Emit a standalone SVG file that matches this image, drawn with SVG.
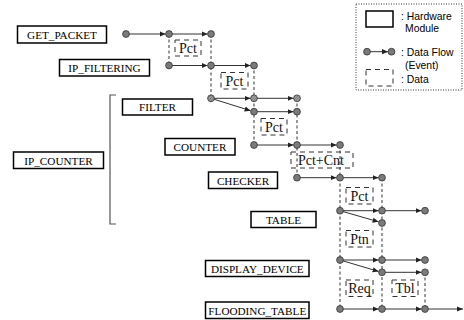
<svg xmlns="http://www.w3.org/2000/svg" width="464" height="320" viewBox="0 0 464 320">
<style>
.hw rect{fill:#fff;stroke:#000;stroke-width:1.5}
.hw text{font-family:'Liberation Serif','Times New Roman',serif;font-size:11.2px;fill:#000;text-anchor:middle}
.dat rect{fill:none;stroke:#333;stroke-width:1;stroke-dasharray:5,4}
.dat text{font-family:'Liberation Serif','Times New Roman',serif;font-size:14px;fill:#111;text-anchor:middle}
.ev line{stroke:#333;stroke-width:1;marker-end:url(#ah)}
.life line{stroke:#333;stroke-width:1;stroke-dasharray:3,2.5}
.dot{fill:#7a7a7a;stroke:#333;stroke-width:0.8}
.hdot{fill:url(#hatch);stroke:#333;stroke-width:0.8}
.leg{font-family:'Liberation Sans',Arial,sans-serif;font-size:10.4px;fill:#000}
</style>
<defs>
<marker id="ah" viewBox="0 0 6 6" refX="6" refY="3" markerWidth="6" markerHeight="6" orient="auto" markerUnits="userSpaceOnUse">
<path d="M0,0.4 L6,3 L0,5.6 z" fill="#222"/>
</marker>
<pattern id="hatch" patternUnits="userSpaceOnUse" width="2" height="2" patternTransform="rotate(45)">
<rect width="2" height="2" fill="#aaa"/>
<line x1="0" y1="0" x2="0" y2="2" stroke="#444" stroke-width="1"/>
</pattern>
</defs>

<!-- bracket -->
<path d="M116,95 H110 V224 H116" fill="none" stroke="#555" stroke-width="1.2"/>

<!-- lifelines -->
<g id="lifelines" class="life">
<line x1="169" y1="34" x2="169" y2="65"/>
<line x1="211" y1="34" x2="211" y2="98"/>
<line x1="254" y1="65" x2="254" y2="145"/>
<line x1="297" y1="98" x2="297" y2="178"/>
<line x1="340" y1="145" x2="340" y2="309"/>
<line x1="382" y1="178" x2="382" y2="309"/>
<line x1="425" y1="272" x2="425" y2="309"/>
</g>

<!-- data -->
<g id="data" class="dat" font-family="Liberation Serif, serif">
<g id="d-pct1"><rect x="175" y="40" width="26" height="16"/><text x="188" y="53">Pct</text></g>
<g id="d-pct2"><rect x="221" y="72.5" width="27" height="16.5"/><text x="234.5" y="86">Pct</text></g>
<g id="d-pct3"><rect x="261" y="118.5" width="26" height="16.5"/><text x="274" y="132">Pct</text></g>
<g id="d-pctcnt"><rect x="291" y="152" width="62" height="16"/><text x="321" y="165">Pct+Cnt</text></g>
<g id="d-pct4"><rect x="346" y="187.5" width="27" height="16.5"/><text x="359.5" y="201">Pct</text></g>
<g id="d-ptn"><rect x="346" y="230.5" width="27" height="16.5"/><text x="359.5" y="244">Ptn</text></g>
<g id="d-req"><rect x="346" y="280" width="27" height="16.5"/><text x="359.5" y="293">Req</text></g>
<g id="d-tbl"><rect x="392" y="280" width="26" height="16.5"/><text x="405" y="293">Tbl</text></g>
</g>

<!-- hardware modules -->
<g font-family="Liberation Serif, serif">
<g id="get_packet" class="hw"><rect x="17.5" y="26" width="89" height="17"/><text x="62" y="38.5">GET_PACKET</text></g>
<g id="ip_filtering" class="hw"><rect x="59.5" y="59.5" width="90" height="16.5"/><text x="104.5" y="72">IP_FILTERING</text></g>
<g id="filter" class="hw"><rect x="122.5" y="99" width="70" height="16"/><text x="157.5" y="111">FILTER</text></g>
<g id="counter" class="hw"><rect x="165" y="138.5" width="70" height="16.5"/><text x="200" y="151">COUNTER</text></g>
<g id="ip_counter" class="hw"><rect x="13.5" y="152" width="90" height="16.5"/><text x="58.5" y="164.5">IP_COUNTER</text></g>
<g id="checker" class="hw"><rect x="208.5" y="172" width="69" height="16.5"/><text x="243" y="184.5">CHECKER</text></g>
<g id="table" class="hw"><rect x="251" y="211.5" width="65" height="16"/><text x="283.5" y="223.5">TABLE</text></g>
<g id="display_device" class="hw"><rect x="205.5" y="260.5" width="103.5" height="16"/><text x="257.3" y="272.5">DISPLAY_DEVICE</text></g>
<g id="flooding_table" class="hw"><rect x="205.5" y="302" width="103.5" height="16.5"/><text x="257.3" y="314.5">FLOODING_TABLE</text></g>
</g>

<!-- event connectors -->
<g id="connectors" class="ev">
<line x1="126" y1="34" x2="165.5" y2="34"/>
<line x1="169" y1="34" x2="207.5" y2="34"/>
<line x1="169" y1="65.5" x2="207.5" y2="65.5"/>
<line x1="211" y1="65.5" x2="250.5" y2="65.5"/>
<line x1="211" y1="98.3" x2="250.5" y2="98.3"/>
<line x1="254" y1="98.3" x2="293.5" y2="98.3"/>
<line x1="211" y1="98.3" x2="250.6" y2="110.7"/>
<line x1="254" y1="111.7" x2="293.5" y2="111.7"/>
<line x1="254" y1="145" x2="293.5" y2="145"/>
<line x1="297" y1="145" x2="336.5" y2="145"/>
<line x1="297" y1="177.7" x2="336.5" y2="177.7"/>
<line x1="340" y1="177.7" x2="378.5" y2="177.7"/>
<line x1="340" y1="210.7" x2="378.5" y2="210.7"/>
<line x1="382" y1="210.7" x2="421.5" y2="210.7"/>
<line x1="340" y1="210.7" x2="378.6" y2="221.8"/>
<line x1="340" y1="260" x2="378.5" y2="260"/>
<line x1="382" y1="260" x2="421.5" y2="260"/>
<line x1="340" y1="260" x2="378.6" y2="271.4"/>
<line x1="382" y1="272.3" x2="421.5" y2="272.3"/>
<line x1="340" y1="309" x2="378.5" y2="309"/>
<line x1="382" y1="309" x2="421.5" y2="309"/>
<line x1="425" y1="309" x2="463" y2="309"/>
</g>

<!-- event points -->
<g id="events">
<circle class="dot" cx="126" cy="34" r="3.4"/>
<circle class="dot" cx="169" cy="34" r="3.4"/>
<circle class="dot" cx="211" cy="34" r="3.4"/>
<circle class="dot" cx="169" cy="65.5" r="3.4"/>
<circle class="dot" cx="211" cy="65.5" r="3.4"/>
<circle class="dot" cx="254" cy="65.5" r="3.4"/>
<circle class="hdot" cx="211" cy="98.3" r="3.4"/>
<circle class="hdot" cx="254" cy="98.3" r="3.4"/>
<circle class="hdot" cx="297" cy="98.3" r="3.4"/>
<circle class="dot" cx="254" cy="111.7" r="3.4"/>
<circle class="dot" cx="297" cy="111.7" r="3.4"/>
<circle class="dot" cx="254" cy="145" r="3.4"/>
<circle class="dot" cx="297" cy="145" r="3.4"/>
<circle class="dot" cx="340" cy="145" r="3.4"/>
<circle class="dot" cx="297" cy="177.7" r="3.4"/>
<circle class="dot" cx="340" cy="177.7" r="3.4"/>
<circle class="dot" cx="382" cy="177.7" r="3.4"/>
<circle class="dot" cx="340" cy="210.7" r="3.4"/>
<circle class="dot" cx="382" cy="210.7" r="3.4"/>
<circle class="dot" cx="425" cy="210.7" r="3.4"/>
<circle class="dot" cx="382" cy="223" r="3.4"/>
<circle class="dot" cx="340" cy="260" r="3.4"/>
<circle class="dot" cx="382" cy="260" r="3.4"/>
<circle class="dot" cx="425" cy="260" r="3.4"/>
<circle class="dot" cx="382" cy="272.3" r="3.4"/>
<circle class="dot" cx="425" cy="272.3" r="3.4"/>
<circle class="dot" cx="340" cy="309" r="3.4"/>
<circle class="dot" cx="382" cy="309" r="3.4"/>
<circle class="dot" cx="425" cy="309" r="3.4"/>
</g>

<!-- legend -->
<g id="legend">
<rect x="356" y="4" width="106" height="86" fill="none" stroke="#333" stroke-width="1" stroke-dasharray="1,1.5"/>
<rect x="366" y="11" width="27" height="16" fill="#fff" stroke="#000" stroke-width="1.5"/>
<text class="leg" x="401" y="20">: Hardware</text>
<text class="leg" x="405" y="32">Module</text>
<line x1="367" y1="51.7" x2="388" y2="51.7" stroke="#333" stroke-width="1" marker-end="url(#ah)"/>
<circle class="dot" cx="367" cy="51.7" r="3.4"/>
<circle class="dot" cx="391.5" cy="51.7" r="3.4"/>
<text class="leg" x="401" y="56">: Data Flow</text>
<text class="leg" x="405" y="68.5">(Event)</text>
<rect x="366" y="69.5" width="27" height="16.5" fill="none" stroke="#333" stroke-width="1" stroke-dasharray="5,4"/>
<text class="leg" x="401" y="83">: Data</text>
</g>
</svg>
